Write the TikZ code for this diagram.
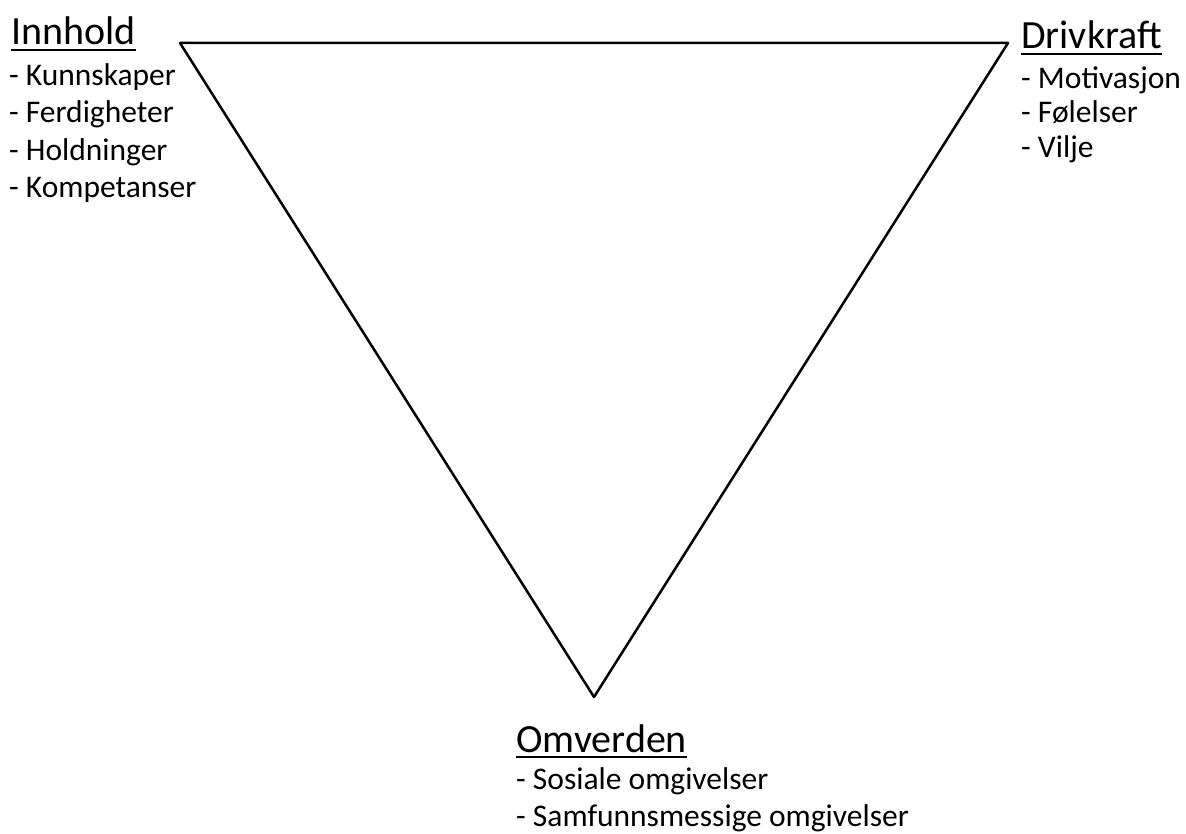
\documentclass[tikz,border=0pt]{standalone}
\usepackage{fontspec}
\setmainfont{Carlito}
\usetikzlibrary{positioning}
\begin{document}
\begin{tikzpicture}[x=1pt, y=-1pt, line join=round, line cap=round,
    head/.style={inner sep=0pt, anchor=base west, font=\fontsize{40}{44}\selectfont},
    item/.style={inner sep=0pt, anchor=base west, font=\fontsize{31.5}{38}\selectfont},
    uline/.style={line width=2.2pt, line cap=butt}]
  \useasboundingbox (0,0) rectangle (1186,834);
  \path (180,43) coordinate (A) (1008,43) coordinate (B) (594,697) coordinate (C);
  % Triangel
  \draw[line width=2.5pt] (A) -- (B) -- (C) -- cycle;
  % Innhold
  \node[head] (innhold) at (11,45) {Innhold};
  \draw[uline] ([yshift=-5pt]innhold.base west) -- ([yshift=-5pt]innhold.base east);
  \foreach \t [count=\i] in {Kunnskaper, Ferdigheter, Holdninger, Kompetanser}
    \node[item] (innhold-\i) at (9,48+37.5*\i) {- \t};
  % Drivkraft
  \node[head] (drivkraft) at (1021,49) {Drivkraft};
  \draw[uline] ([yshift=-5pt]drivkraft.base west) -- ([yshift=-5pt]drivkraft.base east);
  \foreach \t [count=\i] in {Motivasjon, Følelser, Vilje}
    \node[item] (drivkraft-\i) at (1021,54+34.5*\i) {- \t};
  % Omverden
  \node[head] (omverden) at (516,752) {Omverden};
  \draw[uline] ([yshift=-5pt]omverden.base west) -- ([yshift=-5pt]omverden.base east);
  \foreach \t [count=\i] in {Sosiale omgivelser, Samfunnsmessige omgivelser}
    \node[item] (omverden-\i) at (516,753+36.5*\i) {- \t};
\end{tikzpicture}
\end{document}
